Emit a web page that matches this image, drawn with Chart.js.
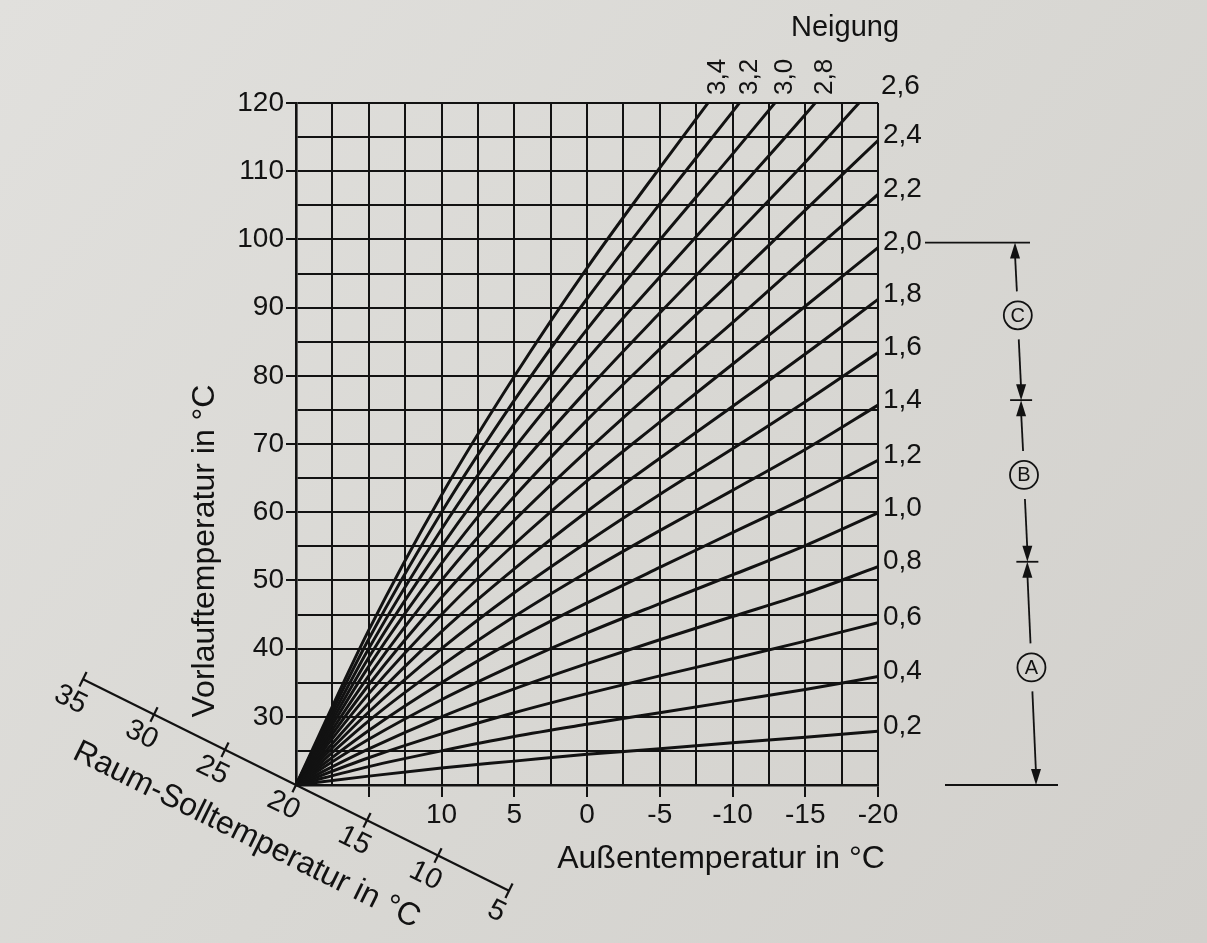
<!DOCTYPE html>
<html>
<head>
<meta charset="utf-8">
<script src="https://cdn.jsdelivr.net/npm/chart.js@4.4.1/dist/chart.umd.min.js"></script>
<style>
html,body{margin:0;padding:0;background:#d8d7d4;}
#wrap{width:1207px;height:943px;position:relative;}
</style>
</head>
<body>
<div id="wrap"><canvas id="c"></canvas></div>
<script>
// Außentemperatur (x) at which the curves are read
const outdoorTemps = [20, 15, 10, 5, 0, -5, -10, -15, -20];

// Vorlauftemperatur of each heating curve (Neigung)
const n02 = [20, 21.3, 22.5, 23.5, 24.5, 25.3, 26.2, 27.0, 27.9];
const n04 = [20, 22.7, 25.0, 27.1, 28.9, 30.6, 32.3, 34.0, 35.9];
const n06 = [20, 24.0, 27.5, 30.6, 33.4, 36.0, 38.5, 41.1, 43.8];
const n08 = [20, 25.3, 30.0, 34.1, 37.8, 41.3, 44.7, 48.1, 52.0];
const n10 = [20, 26.7, 32.5, 37.6, 42.3, 46.6, 50.8, 55.1, 59.9];
const n12 = [20, 28.0, 35.0, 41.2, 46.7, 51.9, 57.0, 62.1, 67.6];
const n14 = [20, 29.4, 37.5, 44.7, 51.2, 57.3, 63.2, 69.2, 75.7];
const n16 = [20, 30.7, 40.0, 48.2, 55.6, 62.6, 69.3, 76.2, 83.4];
const n18 = [20, 32.0, 42.5, 51.7, 60.1, 67.9, 75.5, 83.2, 91.2];
const n20 = [20, 33.4, 45.0, 55.3, 64.6, 73.2, 81.7, 90.2, 98.8];
const n22 = [20, 34.7, 47.5, 58.8, 69.0, 78.6, 87.8, 97.3, 106.6];
const n24 = [20, 36.0, 50.0, 62.3, 73.5, 83.9, 94.0, 104.3, 114.5];
const n26 = [20, 37.4, 52.5, 65.8, 77.9, 89.2, 100.2, 111.3, 123.1];
const n28 = [20, 38.7, 55.0, 69.4, 82.4, 94.5, 106.3, 118.3, 131.0];
const n30 = [20, 40.0, 57.5, 72.9, 86.8, 99.9, 112.5, 125.4, null];
const n32 = [20, 41.4, 60.0, 76.4, 91.3, 105.2, 118.7, 132.4, null];
const n34 = [20, 42.7, 62.5, 79.9, 95.8, 110.5, 124.8, null, null];

const curves = [n02, n04, n06, n08, n10, n12, n14, n16, n18, n20, n22, n24, n26, n28, n30, n32, n34];
const slopeLabels = ['0,2','0,4','0,6','0,8','1,0','1,2','1,4','1,6','1,8','2,0','2,2','2,4','2,6','2,8','3,0','3,2','3,4'];

// Raum-Solltemperatur scale (diagonal axis)
const roomTemps = [35, 30, 25, 20, 15, 10, 5];

// Range markers on the right: upper Neigung bounds of A, B, C
const rangeLetters = ['A', 'B', 'C'];
const rangeBounds = ['0,8', '1,4', '2,0'];

const FONT = '"Liberation Sans", Arial, Helvetica, sans-serif';
const INK = '#121212';
const CLEAR = 'rgba(0,0,0,0)';

const bgPlugin = {
  id: 'bg',
  beforeDraw(chart) {
    const {ctx, width, height} = chart;
    const g = ctx.createLinearGradient(0, 0, width, height);
    g.addColorStop(0, '#e1e0dd');
    g.addColorStop(0.5, '#d9d8d4');
    g.addColorStop(1, '#d2d0cc');
    ctx.save();
    ctx.fillStyle = g;
    ctx.fillRect(0, 0, width, height);
    ctx.restore();
  }
};

function crossingTop(data, top) {
  for (let i = 1; i < data.length; i++) {
    const a = data[i - 1], b = data[i];
    if (a.y <= top && b.y > top) {
      const t = (top - a.y) / (b.y - a.y);
      return a.x + t * (b.x - a.x);
    }
  }
  return null;
}

const decorPlugin = {
  id: 'decor',
  afterDraw(chart) {
    const {ctx, chartArea: ca} = chart;
    const xs = chart.scales.x, ys = chart.scales.y;
    ctx.save();
    ctx.fillStyle = INK;
    ctx.strokeStyle = INK;

    // axis titles
    ctx.font = `32px ${FONT}`;
    ctx.textAlign = 'center';
    ctx.textBaseline = 'middle';
    ctx.fillText('Außentemperatur in °C', 721, 859);
    ctx.save();
    ctx.translate(205, 551);
    ctx.rotate(-Math.PI / 2);
    ctx.fillText('Vorlauftemperatur in °C', 0, 0);
    ctx.restore();

    // Neigung header
    ctx.font = `29px ${FONT}`;
    ctx.fillText('Neigung', 845, 28);

    // curve labels
    const labelY = {};
    chart.data.datasets.forEach((ds, i) => {
      const data = ds.data;
      const last = data[data.length - 1];
      const xc = crossingTop(data, ys.max);
      if (xc === null) {
        const py = ys.getPixelForValue(last.y) - 5;
        labelY[ds.label] = py;
        ctx.font = `28px ${FONT}`;
        ctx.textAlign = 'left';
        ctx.textBaseline = 'middle';
        ctx.fillText(ds.label, ca.right + 5, py);
      } else {
        const px = xs.getPixelForValue(xc);
        if (px > ca.right - 25) {
          ctx.font = `28px ${FONT}`;
          ctx.textAlign = 'left';
          ctx.textBaseline = 'middle';
          ctx.fillText(ds.label, ca.right + 3, ca.top - 17);
        } else {
          ctx.save();
          ctx.font = `26px ${FONT}`;
          ctx.translate(px + 10, ca.top - 8);
          ctx.rotate(-Math.PI / 2);
          ctx.textAlign = 'left';
          ctx.textBaseline = 'middle';
          ctx.fillText(ds.label, 0, 0);
          ctx.restore();
        }
      }
    });

    // Raum-Solltemperatur diagonal axis
    const O = {x: xs.getPixelForValue(20), y: ys.getPixelForValue(20)};
    const step = {x: 71 / 5, y: 35.25 / 5};
    const ang = Math.atan2(step.y, step.x);
    const pos = r => ({x: O.x + (20 - r) * step.x, y: O.y + (20 - r) * step.y});
    const p1 = pos(roomTemps[0]), p2 = pos(roomTemps[roomTemps.length - 1]);
    ctx.lineWidth = 2.2;
    ctx.beginPath();
    ctx.moveTo(p1.x, p1.y);
    ctx.lineTo(p2.x, p2.y);
    ctx.stroke();
    const nx = -Math.sin(ang), ny = Math.cos(ang);
    ctx.font = `29px ${FONT}`;
    roomTemps.forEach(r => {
      const p = pos(r);
      ctx.beginPath();
      ctx.moveTo(p.x - 8 * nx, p.y - 8 * ny);
      ctx.lineTo(p.x + 8 * nx, p.y + 8 * ny);
      ctx.stroke();
      ctx.save();
      ctx.translate(p.x, p.y);
      ctx.rotate(ang);
      ctx.textAlign = 'center';
      ctx.textBaseline = 'middle';
      ctx.fillText(String(r), -2, 24);
      ctx.restore();
    });
    ctx.save();
    ctx.translate(O.x, O.y);
    ctx.rotate(ang);
    ctx.font = `32px ${FONT}`;
    ctx.textAlign = 'center';
    ctx.textBaseline = 'middle';
    ctx.fillText('Raum-Solltemperatur in °C', -22, 67);
    ctx.restore();

    // range markers A / B / C
    const levels = [ca.bottom].concat(rangeBounds.map(l => labelY[l]));
    const topY = levels[levels.length - 1], botY = levels[0];
    const lx = y => 1015 + (y - topY) * (21 / (botY - topY));
    ctx.lineWidth = 1.8;
    ctx.beginPath();
    ctx.moveTo(925, topY); ctx.lineTo(1030, topY);
    ctx.moveTo(945, botY); ctx.lineTo(1058, botY);
    ctx.stroke();
    for (let i = 1; i < levels.length - 1; i++) {
      const yy = levels[i];
      ctx.beginPath();
      ctx.moveTo(lx(yy) - 11, yy); ctx.lineTo(lx(yy) + 11, yy);
      ctx.stroke();
    }
    const arrow = (yFrom, yTo) => {
      const xf = lx(yFrom), xt = lx(yTo);
      const dir = Math.sign(yTo - yFrom);
      ctx.beginPath();
      ctx.moveTo(xf, yFrom);
      ctx.lineTo(xt, yTo - dir * 12);
      ctx.stroke();
      ctx.beginPath();
      ctx.moveTo(xt, yTo);
      ctx.lineTo(xt - 5, yTo - dir * 16);
      ctx.lineTo(xt + 5, yTo - dir * 16);
      ctx.closePath();
      ctx.fill();
    };
    const R = 14;
    for (let i = 0; i < rangeLetters.length; i++) {
      const yLow = levels[i], yHigh = levels[i + 1];
      const cy = (yLow + yHigh) / 2 - 6;
      const cx = lx(cy);
      ctx.beginPath();
      ctx.arc(cx, cy, R, 0, Math.PI * 2);
      ctx.stroke();
      ctx.font = `20px ${FONT}`;
      ctx.textAlign = 'center';
      ctx.textBaseline = 'middle';
      ctx.fillText(rangeLetters[i], cx, cy + 1);
      arrow(cy - R - 10, yHigh);
      arrow(cy + R + 10, yLow);
    }
    ctx.restore();
  }
};

const datasets = curves.map((vals, i) => ({
  label: slopeLabels[i],
  data: outdoorTemps.map((t, j) => ({x: t, y: vals[j]})).filter(p => p.y !== null),
  borderColor: INK,
  borderWidth: 3,
  pointRadius: 0,
  fill: false,
  cubicInterpolationMode: 'monotone'
}));

new Chart(document.getElementById('c'), {
  type: 'line',
  data: {datasets},
  plugins: [bgPlugin, decorPlugin],
  options: {
    responsive: true,
    maintainAspectRatio: false,
    animation: false,
    events: [],
    layout: {padding: {top: 103, right: 329, left: 0, bottom: 0}},
    plugins: {legend: {display: false}, tooltip: {enabled: false}},
    scales: {
      x: {
        type: 'linear',
        reverse: true,
        min: -20,
        max: 20,
        afterFit(s) { s.height = 158; },
        ticks: {
          stepSize: 2.5,
          autoSkip: false,
          maxRotation: 0,
          minRotation: 0,
          padding: 1,
          color: INK,
          font: {family: FONT, size: 28},
          callback: v => (v % 5 === 0 && v !== 20 && v !== 15) ? String(v) : ''
        },
        grid: {
          color: INK,
          lineWidth: 2,
          tickLength: 12,
          tickWidth: 2,
          tickColor: c => (c.tick && c.tick.value % 5 === 0 && c.tick.value !== 20) ? INK : CLEAR
        },
        border: {color: INK, width: 2.6}
      },
      y: {
        type: 'linear',
        min: 20,
        max: 120,
        afterFit(s) { s.width = 296; },
        ticks: {
          stepSize: 5,
          autoSkip: false,
          padding: 2,
          color: INK,
          font: {family: FONT, size: 28},
          callback: v => (v % 10 === 0 && v !== 20) ? String(v) : ''
        },
        grid: {
          color: INK,
          lineWidth: 2,
          tickLength: 10,
          tickWidth: 2,
          tickColor: c => (c.tick && c.tick.value % 10 === 0 && c.tick.value !== 20) ? INK : CLEAR
        },
        border: {color: INK, width: 2.6}
      }
    }
  }
});
</script>
</body>
</html>
